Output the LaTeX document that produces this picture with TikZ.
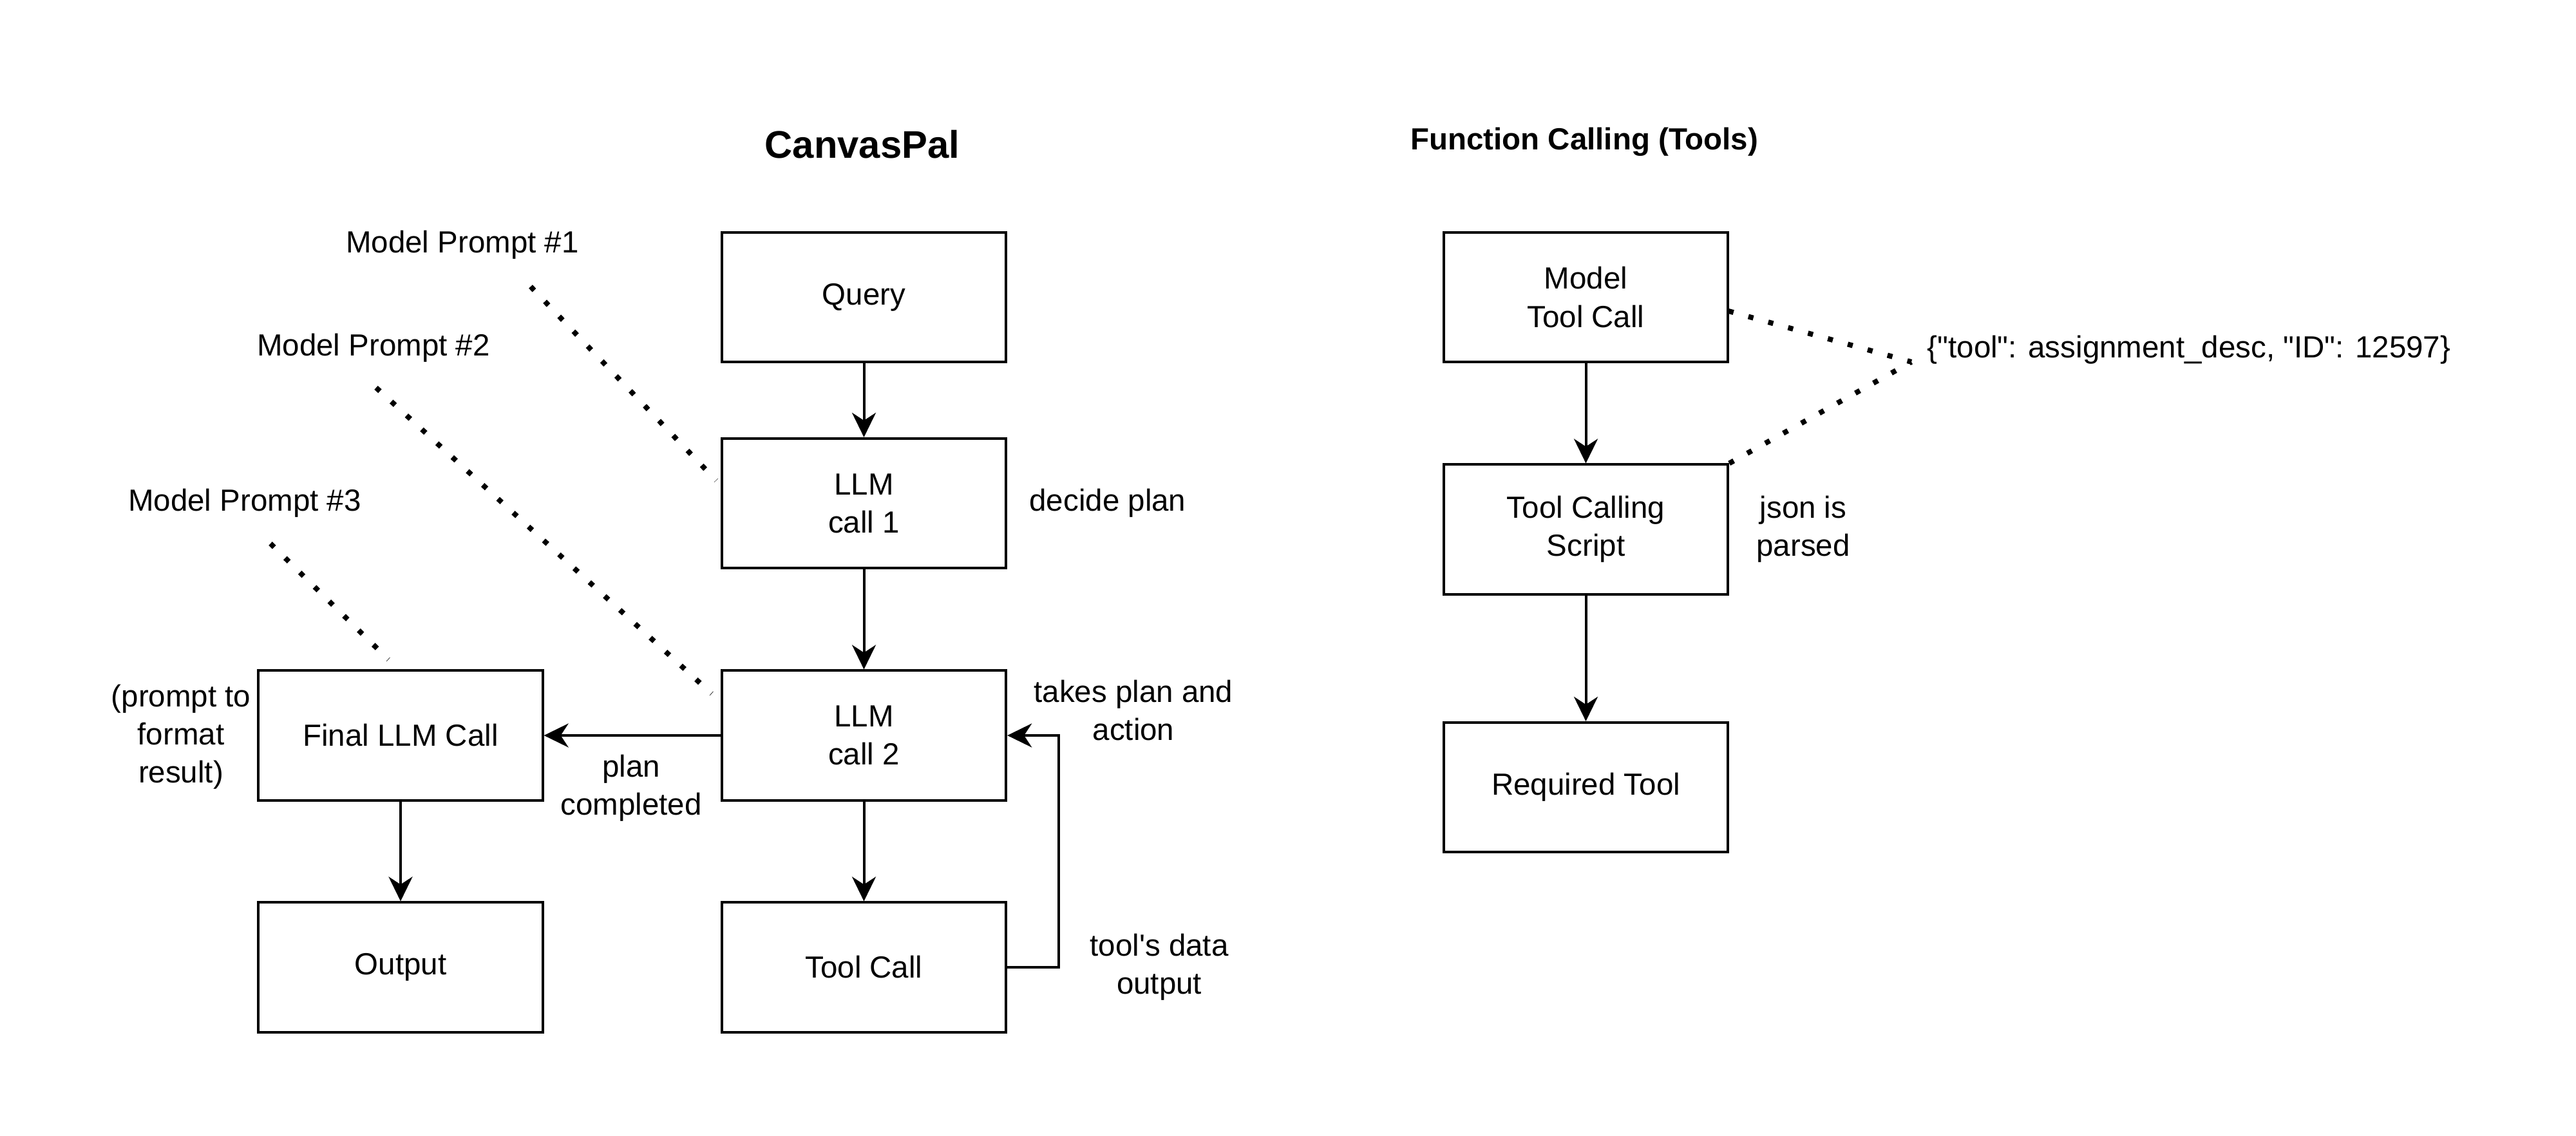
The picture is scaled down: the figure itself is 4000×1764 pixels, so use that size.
\documentclass[tikz,border=0pt]{standalone}
\usepackage{fontspec}
\newfontfamily\lib{Liberation Sans}
\usetikzlibrary{arrows.meta}
\begin{document}
\begin{tikzpicture}[x=0.01cm,y=-0.01cm,
  every node/.style={font=\lib\fontsize{13.5}{16.8}\selectfont},
  box/.style={draw, line width=0.04cm, minimum width=4.41cm, minimum height=2.01cm, align=center, inner sep=0pt},
  lbl/.style={align=center, inner sep=0pt},
  arr/.style={line width=0.04cm, -{Stealth[length=0.38cm,width=0.37cm,inset=0.12cm]}},
  dots/.style={line width=0.08cm, dash pattern=on 0.08cm off 0.24cm}]
\useasboundingbox[fill=white] (0,0) rectangle (4000,1764);
% titles
\node[lbl, font=\lib\bfseries\fontsize{17}{20}\selectfont] (t1) at (1339,224) {CanvasPal};
\node[lbl, font=\lib\bfseries\fontsize{13.5}{16.8}\selectfont] (t2) at (2460,220) {Function Calling (Tools)};
% boxes
\node[box] (query) at (1341.5,461.5) {Query};
\node[box] (llm1) at (1341.5,781.5) {LLM\\call 1};
\node[box] (llm2) at (1341.5,1142) {LLM\\call 2};
\node[box] (toolcall) at (1341.5,1502) {Tool Call};
\node[box] (final) at (622,1142) {Final LLM Call};
\node[box] (output) at (622,1502) {Output};
\node[box] (mtc) at (2462.5,461.5) {Model\\Tool Call};
\node[box] (script) at (2462.5,822) {Tool Calling\\Script};
\node[box] (req) at (2462.5,1222.5) {Required Tool};
% labels
\node[lbl] (mp1) at (718,380) {Model Prompt \#1};
\node[lbl] (mp2) at (580,540) {Model Prompt \#2};
\node[lbl] (mp3) at (380,781) {Model Prompt \#3};
\node[lbl] (decide) at (1720,781) {decide plan};
\node[lbl] (fmt) at (281,1144) {(prompt to\\format\\result)};
\node[lbl] (planc) at (980,1224) {plan\\completed};
\node[lbl] (takes) at (1760,1103) {takes plan and\\action};
\node[lbl] (tdata) at (1800,1502) {tool's data\\output};
\node[lbl] (json) at (2800,822) {json is\\parsed};
\node[lbl, anchor=west] (jtxt) at (2992,543) {\{"tool": assignment\_desc, "ID": 12597\}};
% arrows
\draw[arr] (query) -- (llm1);
\draw[arr] (llm1) -- (llm2);
\draw[arr] (llm2) -- (toolcall);
\draw[arr] (llm2) -- (final);
\draw[arr] (final) -- (output);
\draw[arr] (toolcall.east) -- ++(80,0) |- (llm2.east);
\draw[arr] (mtc) -- (script);
\draw[arr] (script) -- (req);
% dotted connectors
\coordinate (d1s) at (824,445);
\coordinate (d1e) at (1112,746);
\coordinate (d2s) at (584,602);
\coordinate (d2e) at (1105,1077);
\coordinate (d3s) at (420,844);
\coordinate (d3e) at (603,1024);
\coordinate (d4s) at (2684,483);
\coordinate (jj) at (2968,562);
\draw[dots] (d1s) -- (d1e);
\draw[dots] (d2s) -- (d2e);
\draw[dots] (d3s) -- (d3e);
\draw[dots] (d4s) -- (jj);
\draw[dots] (script.north east) -- (jj);
\end{tikzpicture}
\end{document}
